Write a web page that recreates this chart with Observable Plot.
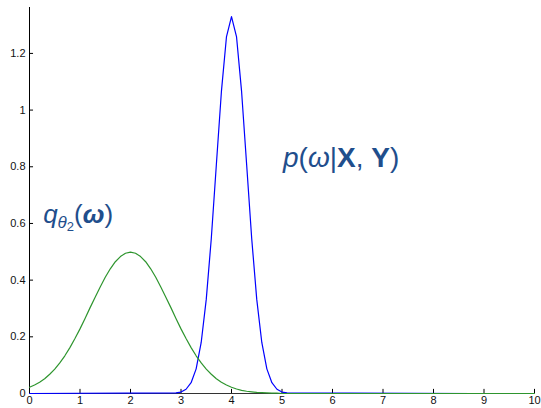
<!DOCTYPE html>
<html><head><meta charset="utf-8">
<script src="https://cdn.jsdelivr.net/npm/d3@7"></script>
<script src="https://cdn.jsdelivr.net/npm/@observablehq/plot@0.6"></script>
<style>body{margin:0;background:#fff}svg{display:block}</style>
</head><body><div id="chart"></div>
<script>
const qX = [0,0.1,0.2,0.3,0.4,0.5,0.6,0.7,0.8,0.9,1,1.1,1.2,1.3,1.4,1.5,1.6,1.7,1.8,1.9,2,
  2.1,2.2,2.3,2.4,2.5,2.6,2.7,2.8,2.9,3,3.1,3.2,3.3,3.4,3.5,3.6,3.7,3.8,3.9,4,
  4.1,4.2,4.3,4.4,4.5,4.6,4.7,4.8,4.9,5,10];
const qY = [0.022,0.030,0.040,0.052,0.068,0.086,0.108,0.133,0.162,0.194,0.228,0.265,0.303,0.340,0.376,0.410,0.440,0.465,0.483,0.495,0.499,
  0.495,0.483,0.465,0.440,0.410,0.376,0.340,0.303,0.265,0.228,0.194,0.162,0.133,0.108,0.086,0.068,0.052,0.040,0.030,0.022,
  0.016,0.011,0.008,0.006,0.004,0.003,0.002,0.001,0.001,0,0];
const pX = [0,2.9,3.0,3.1,3.2,3.3,3.4,3.5,3.6,3.7,3.8,3.9,4.0,4.1,4.2,4.3,4.4,4.5,4.6,4.7,4.8,4.9,5.0,5.1,8.8];
const pY = [0,0.002,0.005,0.015,0.038,0.087,0.180,0.332,0.547,0.807,1.065,1.258,1.330,1.258,1.065,0.807,0.547,0.332,0.180,0.087,0.038,0.015,0.005,0.002,0];
const xTicks = [0,1,2,3,4,5,6,7,8,9,10];
const yTicks = [0,0.2,0.4,0.6,0.8,1,1.2];

const q = qX.map((x,i)=>({x, y:qY[i]}));
const p = pX.map((x,i)=>({x, y:pY[i]}));

const font = "Liberation Sans, Arial, sans-serif";
const plot = Plot.plot({
  width: 541, height: 408,
  marginLeft: 29, marginRight: 7, marginTop: 7, marginBottom: 15,
  style: {fontFamily: font, fontSize: "11px", color: "#111", background: "#fff"},
  x: {domain: [0,10]},
  y: {domain: [0,1.362]},
  marks: [
    Plot.axisX({ticks: xTicks, tickSize: 0, tickPadding: 3, label: null, tickFormat: d3.format("d")}),
    Plot.axisY({ticks: yTicks, tickSize: 0, tickPadding: 4, label: null, tickFormat: d => String(+d.toFixed(1))}),
    Plot.ruleX(xTicks, {x: d => d, y1: 0, y2: 0.0145, stroke: "#000"}),
    Plot.ruleY(yTicks, {y: d => d, x1: 0, x2: 0.08, stroke: "#000"}),
    Plot.ruleX([0], {stroke: "#000"}),
    Plot.ruleY([0], {stroke: "#333"}),
    Plot.line(p, {x: "x", y: "y", stroke: "#0000ff", strokeWidth: 1.2}),
    Plot.line(q, {x: "x", y: "y", stroke: "#2e952e", strokeWidth: 1.2}),
    Plot.text(["P"], {x: 5.02, y: 0.83, text: d => "p(ω|X, Y)", textAnchor: "start", fill: "#1f4e8c", fontSize: 28}),
    Plot.text(["Q"], {x: 0.27, y: 0.632, text: d => "qθ2(ω)", textAnchor: "start", fill: "#1f4e8c", fontSize: 26})
  ]
});
document.getElementById("chart").appendChild(plot);
const svg = d3.select(plot);
svg.selectAll("text").each(function(){
  const t = d3.select(this);
  const s = this.textContent;
  if (s === "p(ω|X, Y)") {
    t.text(null).attr("dy", null);
    t.append("tspan").attr("font-style","italic").text("p");
    t.append("tspan").text("(");
    t.append("tspan").attr("font-style","italic").text("ω");
    t.append("tspan").attr("font-weight","300").text("|");
    t.append("tspan").attr("font-weight","bold").text("X");
    t.append("tspan").text(", ");
    t.append("tspan").attr("font-weight","bold").text("Y");
    t.append("tspan").text(")");
  } else if (s === "qθ2(ω)") {
    t.text(null).attr("dy", null);
    t.append("tspan").attr("font-style","italic").text("q");
    t.append("tspan").attr("font-style","italic").attr("font-size","17").attr("dy","5").text("θ");
    t.append("tspan").attr("font-size","13").attr("dy","3").text("2");
    t.append("tspan").attr("dy","-8").text("(");
    t.append("tspan").attr("font-style","italic").attr("font-weight","bold").text("ω");
    t.append("tspan").text(")");
  }
});
</script></body></html>
